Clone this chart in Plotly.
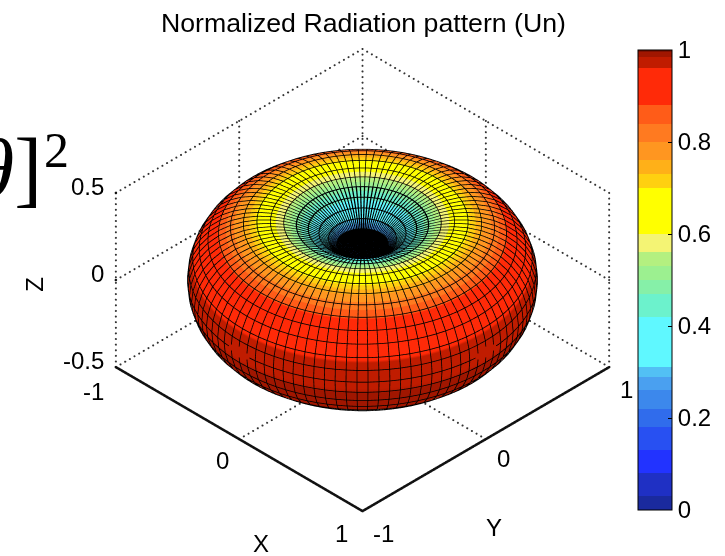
import numpy as np
import plotly.graph_objects as go

THETA_DEG = [i * 3.6 for i in range(51)]
PHI_DEG = [i * 3.6 for i in range(101)]
PATTERN = [0, .0024, .0098, .0220, .0394, .0618, .0894, .1224, .1606, .2042, .2528, .3062, .3640,
           .4253, .4897, .5559, .6225, .6882, .7517, .8111, .8649, .9115, .9492, .9771, .9942, 1,
           .9942, .9771, .9492, .9115, .8649, .8111, .7517, .6882, .6225, .5559, .4897, .4253,
           .3640, .3062, .2528, .2042, .1606, .1224, .0894, .0618, .0394, .0220, .0098, .0024, 0]
RING_COLOR = [.0, .01, .02, .03, .05, .07, .10, .13, .17, .21, .26, .31, .37, .43, .49, .56, .62, .69,
              .75, .81, .87, .91, .93, .95, .97, .975, .98, .99, .99, .99, .99, .99, .99, .99, .99, .99,
              .99, .99, .99, .99, .99, .99, .99, .99, .99, .99, .99, .99, .99, .99, .99]
LEVELS = [0, .03, .08, .13, .18, .22, .26, .29, .31, .42, .47, .50, .53, .56, .60, .70, .73, .76, .80, .84, .88, .96, .985, .995, 1]
LEVEL_COLORS = ['#1a2a9e', '#1f30c4', '#2233ff', '#2850f2', '#306cec', '#3c88ec', '#4aa0f0', '#52c0f4',
                '#5ff8ff', '#6cf2cc', '#86f0a8', '#9cf090', '#b4f080', '#f4f474', '#ffff00', '#ffd010',
                '#ffb018', '#ff9620', '#ff7a20', '#ff5c18', '#ff2a08', '#c01c00', '#a01600', '#801000']
X_TICKS = [-1, 0, 1]
Y_TICKS = [-1, 0, 1]
Z_TICKS = [-.5, 0, .5]
CBAR_TICKS = [0, .2, .4, .6, .8, 1]
HOLE_RINGS = 10
DENSE_RINGS = 14

th = np.radians(THETA_DEG)
ph = np.radians(PHI_DEG)
U = np.array(PATTERN)
X = np.outer(U * np.sin(th), np.cos(ph))
Y = np.outer(U * np.sin(th), np.sin(ph))
Z = np.outer(U * np.cos(th), np.ones_like(ph))
C = np.outer(np.array(RING_COLOR), np.ones_like(ph))

colorscale = []
for i, c in enumerate(LEVEL_COLORS):
    colorscale += [[LEVELS[i], c], [LEVELS[i + 1], c]]

fig = go.Figure()
fig.add_trace(go.Surface(
    x=X, y=Y, z=Z, surfacecolor=C, cmin=0, cmax=1, colorscale=colorscale, hoverinfo='skip',
    lighting=dict(ambient=1, diffuse=0, specular=0, fresnel=0, roughness=1),
    colorbar=dict(lenmode='pixels', len=460, thicknessmode='pixels', thickness=34,
                  x=638 / 725, xanchor='left', xpad=0, y=276 / 556, yanchor='middle', ypad=0,
                  outlinecolor='black', outlinewidth=1, ticks='inside', ticklen=4, tickcolor='black',
                  tickvals=CBAR_TICKS, ticktext=['0', '0.2', '0.4', '0.6', '0.8', '1'],
                  tickfont=dict(family='Liberation Sans', size=24, color='black'))))
# the densely meshed inner cap reads as solid black in the reference
fig.add_trace(go.Surface(
    x=X[:HOLE_RINGS + 1] * 1.002, y=Y[:HOLE_RINGS + 1] * 1.002, z=Z[:HOLE_RINGS + 1] * 1.002,
    surfacecolor=np.zeros_like(X[:HOLE_RINGS + 1]), cmin=0, cmax=1,
    colorscale=[[0, 'black'], [1, 'black']], showscale=False, hoverinfo='skip',
    lighting=dict(ambient=1, diffuse=0, specular=0, fresnel=0, roughness=1)))


def add_lines(segments, width=1, color='black'):
    xs, ys, zs = [], [], []
    for seg in segments:
        for p in seg:
            xs.append(p[0]); ys.append(p[1]); zs.append(p[2])
        xs.append(None); ys.append(None); zs.append(None)
    fig.add_trace(go.Scatter3d(x=xs, y=ys, z=zs, mode='lines', hoverinfo='skip', showlegend=False,
                               line=dict(color=color, width=width)))


def add_dots(segments, color='#333333', size=1.2, count=None):
    xs, ys, zs = [], [], []
    for a, b in segments:
        n = count or (54 if a[2] == b[2] else 32)
        xs += list(np.linspace(a[0], b[0], n))
        ys += list(np.linspace(a[1], b[1], n))
        zs += list(np.linspace(a[2], b[2], n))
    fig.add_trace(go.Scatter3d(x=xs, y=ys, z=zs, mode='markers', hoverinfo='skip', showlegend=False,
                               marker=dict(color=color, size=size, line=dict(width=0))))


# mesh lines of the surface
mesh = []
for i in range(1, len(THETA_DEG) - 1):
    mesh.append(list(zip(X[i] * 1.004, Y[i] * 1.004, Z[i] * 1.004)))
for j in range(len(PHI_DEG) - 1):
    mesh.append(list(zip(X[:, j] * 1.004, Y[:, j] * 1.004, Z[:, j] * 1.004)))
add_lines(mesh, width=1.6, color='#000000')

inner = []
for i in range(1, DENSE_RINGS + 1):
    inner.append(list(zip(X[i] * 1.005, Y[i] * 1.005, Z[i] * 1.005)))
for j in range(len(PHI_DEG) - 1):
    inner.append(list(zip(X[:DENSE_RINGS + 1, j] * 1.005, Y[:DENSE_RINGS + 1, j] * 1.005, Z[:DENSE_RINGS + 1, j] * 1.005)))
add_lines(inner, width=2.6, color='#000000')

# dotted box and grid
zlo, zhi = Z_TICKS[0], Z_TICKS[-1]
dots = []
for z in Z_TICKS:
    dots.append(((-1, -1, z), (-1, 1, z)))
    dots.append(((-1, 1, z), (1, 1, z)))
for y in Y_TICKS:
    dots.append(((-1, y, zlo), (-1, y, zhi)))
for x in X_TICKS:
    dots.append(((x, 1, zlo), (x, 1, zhi)))
dots.append(((0, -1, zlo), (0, 1, zlo)))
dots.append(((-1, 0, zlo), (1, 0, zlo)))
add_dots(dots)

# solid axes as closely packed marks, which keep an even weight in GL, with short outward ticks
add_dots([((-1, -1, zlo), (1, -1, zlo)), ((1, -1, zlo), (1, 1, zlo))], color='#111111', size=1.5, count=500)
ticks = [((x, -1, zlo), (x, -1.035, zlo)) for x in X_TICKS]
ticks += [((1, y, zlo), (1.035, y, zlo)) for y in Y_TICKS]
ticks += [((-1, -1, z), (-1.035, -1, z)) for z in Z_TICKS]
add_dots(ticks, color='#111111', size=1.5, count=12)

font = dict(family='Liberation Sans', size=24, color='black')


def note(x, y, z, text, dx, dy, angle=0, anchor='center'):
    return dict(x=x, y=y, z=z, text=text, showarrow=False, xshift=dx, yshift=dy, textangle=angle, font=font,
                xanchor=anchor, yanchor='middle')


anns = []
anns += [note(-1, -1, zt, lab, -10, 6, anchor='right') for zt, lab in zip(Z_TICKS, ['-0.5', '0', '0.5'])]
anns += [note(xt, -1, zlo, lab, dx, dy) for xt, lab, dx, dy in zip(X_TICKS, ['-1', '0', '1'], [-22, -17, -21], [-25, -22, -23])]
anns += [note(1, yt, zlo, lab, dx, dy) for yt, lab, dx, dy in zip(Y_TICKS, ['-1', '0', '1'], [21, 18, 17], [-23, -20, -23])]
anns.append(note(0, -1, zlo, 'X', 22, -105))
anns.append(note(1, 0, zlo, 'Y', 8, -89))
anns.append(note(-1, -1, 0, 'Z', -81, -4, angle=-90))

fig.update_layout(
    width=725, height=556, margin=dict(l=0, r=0, t=0, b=0), paper_bgcolor='white', showlegend=False,
    scene=dict(
        domain=dict(x=[0, 1], y=[.004, .989]),
        xaxis=dict(visible=False, range=[-1, 1]),
        yaxis=dict(visible=False, range=[-1, 1]),
        zaxis=dict(visible=False, range=[-.5, .5]),
        aspectmode='manual', aspectratio=dict(x=1.273, y=1.273, z=.783),
        camera=dict(projection=dict(type='orthographic'), center=dict(x=0, y=0, z=0),
                    up=dict(x=0, y=0, z=1), eye=dict(x=1.2, y=-1.2, z=1.22)),
        annotations=anns),
    annotations=[
        dict(x=364 / 725, y=1 - 23 / 556, xref='paper', yref='paper', showarrow=False, yanchor='middle',
             text='Normalized Radiation pattern (Un)', font=dict(family='Liberation Sans', size=26.7, color='black')),
        dict(x=44 / 725, y=1 - 168 / 556, xref='paper', yref='paper', showarrow=False, xanchor='right', yanchor='middle',
             text='<i>θ</i>]', font=dict(family='Liberation Serif', size=84, color='black')),
        dict(x=42 / 725, y=1 - 150 / 556, xref='paper', yref='paper', showarrow=False, xanchor='left', yanchor='middle',
             text='2', font=dict(family='Liberation Serif', size=50, color='black')),
    ])
fig.write_html('out.html', post_script="document.body.style.margin='0';", config=dict(displayModeBar=False))
